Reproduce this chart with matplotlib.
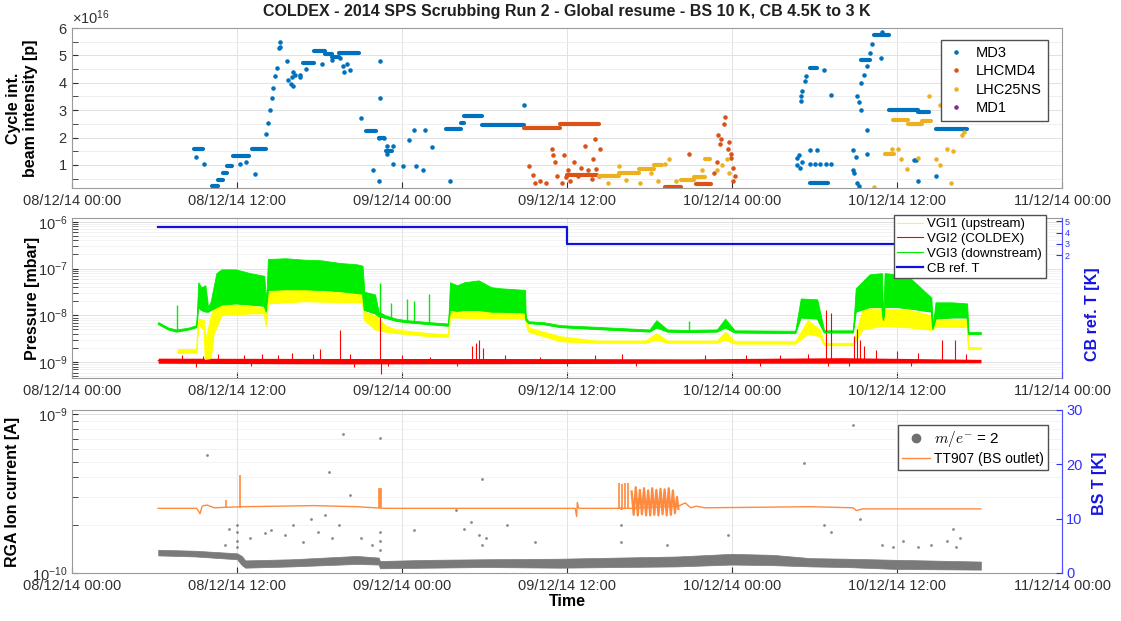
import numpy as np
import matplotlib
matplotlib.use("Agg")
import matplotlib.pyplot as plt
import matplotlib.dates as mdates
from matplotlib.ticker import ScalarFormatter, LogLocator, NullFormatter, FixedLocator

plt.rcParams["font.family"] = ["Liberation Sans", "DejaVu Sans"]
plt.rcParams["mathtext.fontset"] = "custom"
plt.rcParams["mathtext.rm"] = "Liberation Sans"
plt.rcParams["mathtext.it"] = "Liberation Sans:italic"
plt.rcParams["mathtext.bf"] = "Liberation Sans:bold"

T0 = np.datetime64("2014-12-08T00:00")

# ── cycle intensity (hours since 08/12/14 00:00, value in 1e16 p) ──────────
# plateaus: start h, end h, level
md3_seg_h0 = [8.9, 10.2, 10.6, 11.0, 11.3, 11.7, 13.1, 16.8, 17.6, 18.4, 18.9, 19.4, 21.4, 22.3, 22.8,
              27.2, 28.3, 28.5, 29.8, 53.7, 53.7, 57.4, 58.3, 59.4, 61.5, 62.8]
md3_seg_h1 = [9.5, 10.6, 11.0, 11.3, 11.6, 12.9, 14.1, 17.6, 18.4, 18.9, 19.4, 20.9, 22.1, 22.7, 23.3,
              28.3, 28.5, 29.8, 32.9, 54.2, 55.0, 58.0, 59.4, 61.5, 62.3, 65.1]
md3_seg_v = [1.6, 0.25, 0.45, 0.7, 0.95, 1.32, 1.57, 4.73, 5.15, 5.05, 4.95, 5.1, 2.25, 1.97, 1.5,
             2.33, 2.55, 2.8, 2.45, 4.55, 0.35, 4.85, 5.75, 3.0, 2.95, 2.33]
md3_h = [9.0, 9.6, 12.2, 12.65, 13.3, 14.1, 14.25, 14.4, 14.55, 14.6, 14.75, 14.9, 15.05, 15.1, 15.15,
         15.6, 15.7, 15.9, 16.0, 16.1, 16.2, 16.1, 16.6, 16.6, 17.0, 18.2, 18.9, 19.5, 19.7, 19.8, 20.0,
         20.2, 21.0, 22.4, 22.4, 22.3, 22.7, 22.9, 22.9, 23.35, 23.35, 21.9, 22.3, 24.1, 24.5, 24.9,
         25.7, 26.2, 25.0, 25.5, 27.5, 32.9,
         52.7, 52.75, 52.9, 52.95, 53.1, 53.7, 54.0, 54.4, 54.8, 55.2, 53.7, 54.2, 53.0, 53.1, 53.3,
         53.4, 54.7, 55.2, 53.05, 56.8, 57.0, 57.1, 56.8, 56.9, 57.1, 57.2, 57.4, 57.4, 57.6, 57.8,
         58.0, 58.2, 58.9, 58.8, 57.8, 57.8, 57.2, 61.2, 61.4, 61.5, 62.8]
md3_v = [1.28, 1.05, 1.05, 1.1, 0.66, 2.14, 2.52, 3.0, 3.45, 3.8, 4.24, 4.55, 5.28, 5.48, 5.3,
         4.8, 4.1, 3.95, 4.2, 4.4, 4.3, 3.9, 4.3, 4.2, 4.5, 4.7, 4.85, 4.9, 4.6, 4.4, 4.7,
         4.45, 2.7, 4.8, 3.45, 2.0, 2.0, 1.7, 1.4, 1.7, 1.04, 0.8, 0.42, 0.97, 1.9, 2.27,
         2.27, 1.66, 0.97, 0.8, 0.4, 3.2,
         1.0, 1.25, 1.35, 0.9, 1.1, 1.03, 1.03, 1.03, 1.03, 1.03, 1.55, 1.55, 3.5, 3.7, 4.05,
         4.25, 4.45, 3.55, 3.35, 1.55, 1.3, 0.35, 0.8, 0.7, 3.5, 3.3, 3.0, 4.0, 4.3, 4.6,
         5.1, 5.4, 5.85, 4.9, 2.27, 1.4, 0.25, 1.17, 1.17, 0.4, 0.6]

lhcmd4_seg_h0 = [32.9, 35.5, 36.0, 43.1, 45.4]
lhcmd4_seg_h1 = [35.5, 38.3, 38.2, 44.3, 46.5]
lhcmd4_seg_v = [2.35, 2.5, 0.65, 0.2, 0.3]
lhcmd4_h = [33.2, 33.5, 33.7, 34.0, 34.5, 34.9, 35.0, 35.1, 35.3, 35.6, 35.75, 35.9, 36.1, 36.2, 36.5,
            36.8, 37.0, 37.3, 37.5, 37.8, 37.9, 38.0, 38.1, 38.3, 38.4, 44.9, 46.7, 46.9, 47.0, 47.1,
            47.2, 47.4, 47.5, 47.7, 47.8, 47.9, 47.95, 48.1, 48.1, 48.25]
lhcmd4_v = [0.97, 0.65, 0.35, 0.4, 0.35, 1.6, 1.35, 1.1, 0.6, 0.35, 1.35, 0.55, 0.8, 0.4, 1.1,
            0.6, 0.9, 1.7, 0.8, 0.5, 1.2, 1.95, 0.85, 0.6, 1.6, 1.4, 0.7, 1.1, 2.1, 1.75,
            1.95, 2.5, 2.75, 1.6, 1.85, 1.4, 1.25, 0.9, 0.4, 0.6]

lhc25_seg_h0 = [38.3, 39.8, 41.2, 42.3, 44.3, 45.2, 46.0, 59.1, 59.7, 60.8, 61.8, 64.1]
lhc25_seg_h1 = [39.8, 41.2, 42.3, 42.9, 45.2, 46.0, 46.4, 59.8, 60.8, 61.8, 62.5, 64.9]
lhc25_seg_v = [0.6, 0.7, 0.85, 1.0, 0.45, 0.55, 1.2, 1.4, 2.65, 2.5, 2.6, 2.95]
lhc25_h = [38.95, 39.8, 40.3, 41.3, 42.1, 42.6, 43.1, 43.4, 43.9, 45.8, 46.9, 47.3, 47.6, 47.8,
           58.3, 59.6, 60.1, 60.3, 60.7, 61.5, 62.3, 63.1, 62.8, 63.1, 63.6, 64.1, 63.9, 64.9, 64.7]
lhc25_v = [0.35, 0.95, 0.45, 0.35, 0.7, 0.4, 1.05, 1.2, 0.4, 0.8, 0.8, 1.0, 1.2, 0.7,
           0.2, 1.6, 1.6, 1.2, 0.85, 1.25, 3.5, 3.2, 1.2, 1.0, 1.6, 1.5, 0.35, 2.2, 2.1]

md1_h = []
md1_v = []

# ── pressures [mbar] ─────────────────────────────────────────────────────────
vgi3_h = [6.27, 7.0, 7.6, 8.5, 9.05, 9.18, 9.4, 9.7, 9.9, 10.09, 10.5, 10.87, 11.91, 12.95, 13.98,
          14.12, 14.25, 15.54, 16.84, 18.14, 19.44, 20.74, 21.13, 21.26, 22.04, 22.3, 22.81, 23.59,
          24.37, 25.93, 27.36, 27.49, 28.0, 28.53, 29.57, 30.5, 31.13, 32.95, 33.0, 33.2, 34.25,
          35.5, 38.1, 42.0, 42.5, 43.3, 44.6, 46.9, 47.5, 48.2, 52.6, 53.0, 54.2, 54.7, 56.8, 57.0,
          58.0, 58.9, 59.0, 59.1, 60.0, 60.9, 62.5, 62.6, 62.8, 64.0, 65.1, 65.2, 66.1]
vgi3_hi = [7.2e-9, 5.5e-9, 5.0e-9, 5.5e-9, 6.2e-9, 5.1e-8, 4.0e-8, 4.4e-8, 1.5e-8, 2.0e-8, 8e-8, 9.6e-8,
           9.6e-8, 8e-8, 7e-8, 2.0e-8, 1.6e-7, 1.66e-7, 1.55e-7, 1.5e-7, 1.32e-7, 1.23e-7, 1.15e-7,
           3.2e-8, 2.8e-8, 1.2e-8, 1.0e-8, 8.5e-9, 7.9e-9, 7.2e-9, 6.7e-9, 5.1e-8, 4.4e-8, 5.1e-8,
           5.6e-8, 4.0e-8, 3.8e-8, 3.5e-8, 9e-9, 7.5e-9, 7.2e-9, 6.2e-9, 5.7e-9, 5.0e-9, 7.9e-9,
           5.0e-9, 4.9e-9, 5.0e-9, 8.5e-9, 4.8e-9, 4.7e-9, 2.3e-8, 2.2e-8, 4.8e-9, 4.8e-9, 3.8e-8,
           7.5e-8, 8e-8, 9e-9, 8e-8, 7.5e-8, 6.5e-8, 2.4e-8, 5.7e-9, 1.9e-8, 1.9e-8, 1.8e-8, 4.4e-9,
           4.4e-9]
vgi3_lo = [6.5e-9, 5.0e-9, 4.5e-9, 5.0e-9, 5.6e-9, 1.5e-8, 1.3e-8, 1.2e-8, 1.2e-8, 1.3e-8, 1.5e-8,
           1.7e-8, 1.8e-8, 1.7e-8, 1.6e-8, 1.2e-8, 3.5e-8, 3.6e-8, 3.6e-8, 3.5e-8, 3.3e-8, 3.0e-8,
           2.9e-8, 1.3e-8, 1.1e-8, 9.5e-9, 8.8e-9, 7.6e-9, 7.1e-9, 6.5e-9, 6.0e-9, 1.3e-8, 1.25e-8,
           1.3e-8, 1.3e-8, 1.2e-8, 1.2e-8, 1.15e-8, 8e-9, 6.8e-9, 6.5e-9, 5.6e-9, 5.1e-9, 4.5e-9,
           5.5e-9, 4.5e-9, 4.4e-9, 4.5e-9, 5.5e-9, 4.3e-9, 4.2e-9, 9e-9, 8.5e-9, 4.3e-9, 4.3e-9,
           1.2e-8, 1.5e-8, 1.5e-8, 8e-9, 1.5e-8, 1.5e-8, 1.4e-8, 1.2e-8, 5.1e-9, 8.5e-9, 9e-9, 9e-9,
           4.0e-9, 4.0e-9]
vgi3_spk_h = [7.67, 22.43, 23.2, 24.37, 24.89, 25.93, 44.9]
vgi3_spk_p = [1.7e-8, 5e-8, 1.8e-8, 2.2e-8, 2.0e-8, 2.8e-8, 7.5e-9]

vgi1_h = [7.67, 9.05, 9.18, 9.6, 9.7, 10.09, 10.3, 10.87, 12.95, 13.98, 14.12, 14.25, 16.84, 20.74,
          21.13, 21.26, 22.04, 22.81, 23.59, 25.93, 27.36, 27.49, 32.95, 33.2, 35.5, 38.1, 41.7,
          42.5, 43.3, 46.9, 47.5, 48.2, 52.6, 53.5, 54.4, 54.7, 56.8, 57.5, 59.0, 61.0, 62.5, 62.8,
          65.1, 65.2, 66.1]
vgi1_lo = [1.6e-9, 1.6e-9, 6.5e-9, 5e-9, 1.15e-9, 1.2e-9, 4e-9, 1.0e-8, 1.1e-8, 1.1e-8, 6e-9, 1.8e-8,
           2.0e-8, 1.9e-8, 1.9e-8, 8e-9, 5e-9, 4.5e-9, 4.2e-9, 3.6e-9, 3.5e-9, 9e-9, 8.5e-9, 4.5e-9,
           2.8e-9, 2.6e-9, 2.6e-9, 3.0e-9, 2.6e-9, 2.6e-9, 3.0e-9, 2.5e-9, 2.5e-9, 4e-9, 3.6e-9,
           2.3e-9, 2.3e-9, 5e-9, 6e-9, 5.5e-9, 4.9e-9, 5.7e-9, 5.7e-9, 1.9e-9, 1.9e-9]
vgi1_hi = [1.9e-9, 1.9e-9, 8.5e-9, 8e-9, 3e-9, 1.0e-8, 1.4e-8, 1.8e-8, 1.6e-8, 1.5e-8, 8e-9, 3.5e-8,
           3.6e-8, 3.0e-8, 2.9e-8, 1.2e-8, 1.0e-8, 6e-9, 5e-9, 4.2e-9, 4.0e-9, 1.3e-8, 1.2e-8, 5.5e-9,
           3.6e-9, 2.9e-9, 2.9e-9, 4.2e-9, 2.9e-9, 2.9e-9, 4.5e-9, 2.8e-9, 2.8e-9, 7.9e-9, 5e-9,
           2.6e-9, 2.6e-9, 1.4e-8, 1.4e-8, 1.3e-8, 1.0e-8, 7.9e-9, 7.9e-9, 2.1e-9, 2.1e-9]

vgi2_h = [6.27, 20.0, 30.0, 45.0, 56.0, 66.1]
vgi2_lo = [0.95e-9, 0.92e-9, 0.93e-9, 0.95e-9, 0.95e-9, 0.97e-9]
vgi2_hi = [1.22e-9, 1.2e-9, 1.2e-9, 1.18e-9, 1.25e-9, 1.15e-9]
vgi2_spk_h = [8.0, 9.5, 10.6, 12.5, 13.8, 15.0, 16.0, 17.5, 18.0, 19.5, 20.2, 22.4, 24.0, 26.0, 29.1,
              29.4, 29.6, 29.9, 31.5, 34.0, 38.0, 40.0, 46.0, 49.0, 51.5, 53.5, 54.8, 55.2, 56.9,
              57.1, 57.3, 57.6, 58.5, 60.0, 61.5, 63.3, 64.2, 65.0]
vgi2_spk_p = [1.4e-9, 1.35e-9, 1.5e-9, 1.4e-9, 1.5e-9, 1.4e-9, 1.6e-9, 1.5e-9, 1.9e-9, 4.9e-9, 1.5e-9,
              1.5e-8, 1.4e-9, 1.3e-9, 2.2e-9, 2.6e-9, 3.0e-9, 2.0e-9, 1.4e-9, 1.3e-9, 1.4e-9, 1.5e-9,
              1.4e-9, 1.4e-9, 1.4e-9, 1.5e-9, 1.3e-8, 1.1e-8, 3.6e-9, 5e-9, 3.0e-9, 2.2e-9, 1.8e-9,
              1.7e-9, 1.6e-9, 3.0e-9, 3.0e-9, 1.5e-9]
vgi2_dip_h = [9.0, 13.0, 20.5, 22.45, 23.0, 28.0, 36.0, 41.0, 50.0, 55.0, 56.5, 61.0]
vgi2_dip_p = [8e-10, 8.3e-10, 8e-10, 5.5e-10, 8.5e-10, 8.5e-10, 8.5e-10, 8.5e-10, 8.5e-10, 8.5e-10,
              8.5e-10, 8.5e-10]

cb_h = [6.27, 36.0, 36.0, 66.1]
cb_T = [4.5, 4.5, 3.0, 3.0]

# ── RGA m/e=2 ion current [A] and BS outlet temperature [K] ─────────────────
rga_h = [6.27, 9.0, 12.0, 12.35, 12.6, 16.0, 20.7, 22.3, 22.4, 26.0, 30.0, 35.5, 39.7, 44.0, 48.0,
         51.0, 53.7, 56.3, 60.0, 66.1]
rga_lo = [1.29e-10, 1.27e-10, 1.22e-10, 1.12e-10, 1.08e-10, 1.1e-10, 1.14e-10, 1.13e-10, 1.07e-10,
          1.08e-10, 1.09e-10, 1.08e-10, 1.09e-10, 1.1e-10, 1.13e-10, 1.12e-10, 1.1e-10, 1.09e-10,
          1.06e-10, 1.05e-10]
rga_hi = [1.40e-10, 1.38e-10, 1.33e-10, 1.28e-10, 1.2e-10, 1.22e-10, 1.28e-10, 1.25e-10, 1.19e-10,
          1.21e-10, 1.22e-10, 1.23e-10, 1.25e-10, 1.27e-10, 1.32e-10, 1.3e-10, 1.24e-10, 1.23e-10,
          1.21e-10, 1.18e-10]
rga_pt_h = [9.83, 18.66, 19.7, 22.4, 20.2, 29.8, 27.9, 12.95, 14.0, 14.5, 15.5, 16.1, 16.8, 17.4, 17.9,
            18.4, 18.9, 19.4, 11.4, 11.1, 21.0, 21.8, 24.9, 28.5, 29.0, 29.6, 29.8, 30.1, 31.6, 33.7,
            12.0, 12.0, 12.0, 12.0, 22.4, 22.4, 22.4, 39.9, 39.9, 39.9, 53.2, 56.8, 54.7, 55.2, 47.7,
            43.3, 58.9, 59.7, 60.4, 61.5, 62.5, 63.6, 64.3, 64.6, 57.3, 64.1]
rga_pt_I = [5.5e-10, 4.3e-10, 7.5e-10, 7.1e-10, 3.1e-10, 3.9e-10, 2.5e-10, 1.65e-10, 1.78e-10, 1.86e-10,
            1.73e-10, 2.0e-10, 1.57e-10, 2.2e-10, 1.82e-10, 2.33e-10, 1.65e-10, 2.0e-10, 1.9e-10,
            1.5e-10, 1.65e-10, 1.5e-10, 1.86e-10, 1.9e-10, 2.1e-10, 1.73e-10, 1.5e-10, 1.65e-10,
            2.0e-10, 1.57e-10, 2.0e-10, 1.8e-10, 1.6e-10, 1.45e-10, 1.8e-10, 1.6e-10, 1.4e-10,
            2.57e-10, 2.0e-10, 1.57e-10, 4.9e-10, 8.5e-10, 2.0e-10, 1.82e-10, 1.73e-10, 1.5e-10,
            1.5e-10, 1.45e-10, 1.6e-10, 1.45e-10, 1.5e-10, 1.6e-10, 1.45e-10, 1.65e-10, 2.2e-10, 1.9e-10]

tt907_h = [6.27, 8.0, 9.05, 9.2, 9.31, 9.45, 9.57, 9.83, 10.35, 11.2, 12.43, 17.6, 20.7, 22.04, 22.8,
           30.0, 35.5, 36.6, 36.7, 36.75, 36.85, 39.7, 40.7, 44.1, 44.6, 45.0, 45.4, 46.0, 53.7, 56.8,
           57.05, 57.5, 66.1]
tt907_T = [11.9, 11.9, 11.9, 11.4, 10.9, 12.2, 12.4, 12.5, 12.0, 12.1, 12.2, 12.4, 12.2, 12.0, 11.9,
           11.9, 11.9, 11.9, 10.4, 13.0, 11.9, 11.9, 11.9, 12.3, 12.9, 12.0, 12.3, 12.0, 12.2, 12.0,
           11.5, 11.8, 11.8]
# temperature swings while the beam screen regulation oscillates
tt907_osc_h = [40.7, 40.85, 41.0, 41.15, 41.3, 41.45, 41.6, 41.75, 41.9, 42.05, 42.2, 42.35, 42.5,
               42.65, 42.8, 42.95, 43.1, 43.25, 43.4, 43.55, 43.7, 43.85, 44.0, 44.1]
tt907_osc_T = [15.0, 10.7, 15.8, 10.6, 15.3, 10.8, 15.6, 10.6, 15.2, 10.6, 15.6, 10.7, 15.3, 10.6,
               15.5, 10.8, 15.4, 10.6, 15.6, 10.7, 15.2, 11.0, 14.0, 11.8]
tt907_spk_h = [11.2, 12.2, 22.3, 22.4, 22.5, 39.8, 40.0, 40.2, 40.4]
tt907_spk_T = [13.4, 18.1, 15.7, 15.5, 15.7, 16.5, 16.3, 16.6, 16.5]


def hours(h):
    return T0 + (np.asarray(h, dtype=float) * 3600).astype(np.int64).astype("timedelta64[s]")


def style_time_axis(ax):
    ax.set_xlim(hours(0)[()], hours(72)[()])
    ax.xaxis.set_major_locator(mdates.HourLocator(byhour=[0, 12]))
    ax.xaxis.set_major_formatter(mdates.DateFormatter("%d/%m/%y %H:%M"))
    ax.tick_params(axis="both", which="both", direction="in", colors="#303030",
                   labelsize=10.5, length=4)
    ax.tick_params(axis="x", pad=4)
    ax.tick_params(axis="y", pad=3)
    ax.grid(True, which="major", color="#e2e2e2", lw=0.7)
    for sp in ax.spines.values():
        sp.set_color("#9a9a9a")
        sp.set_linewidth(0.8)
    ax.set_axisbelow(True)


def draw_segments(ax, h0, h1, v, color):
    ax.hlines(np.asarray(v) * 1e16, hours(h0), hours(h1), colors=color, lw=3.0, capstyle="round")


fig = plt.figure(figsize=(11.21, 6.21), dpi=100)
X0, W = 72 / 1121, 990 / 1121

# ── panel 1: cycle intensity ────────────────────────────────────────────────
ax1 = fig.add_axes([X0, 0.6973, W, 0.2576])
style_time_axis(ax1)
series = [("MD3", "#0072BD", md3_h, md3_v, md3_seg_h0, md3_seg_h1, md3_seg_v),
          ("LHCMD4", "#D95319", lhcmd4_h, lhcmd4_v, lhcmd4_seg_h0, lhcmd4_seg_h1, lhcmd4_seg_v),
          ("LHC25NS", "#EDB120", lhc25_h, lhc25_v, lhc25_seg_h0, lhc25_seg_h1, lhc25_seg_v),
          ("MD1", "#7E2F8E", md1_h, md1_v, [], [], [])]
for name, col, h, v, s0, s1, sv in series:
    if s0:
        draw_segments(ax1, s0, s1, sv, col)
    ax1.plot(hours(h), np.asarray(v, dtype=float) * 1e16, ".", color=col, ms=4.5, label=name)
ax1.set_ylim(0.16e16, 6e16)
ax1.yaxis.set_major_locator(FixedLocator(np.arange(1, 7) * 1e16))
ax1.yaxis.set_minor_locator(FixedLocator(np.arange(0.5, 6, 1.0) * 1e16))
ax1.grid(True, which="minor", axis="y", color="#ededed", lw=0.6)
fmt = ScalarFormatter(useMathText=True)
fmt.set_powerlimits((0, 0))
ax1.yaxis.set_major_formatter(fmt)
ax1.yaxis.get_offset_text().set_fontsize(10.5)
ax1.yaxis.get_offset_text().set_color("#303030")
ax1.set_ylabel("Cycle int.\nbeam intensity [p]", fontsize=11.5, fontweight="bold")
ax1.yaxis.set_label_coords(-0.034, 0.5)
ax1.legend(loc="upper right", bbox_to_anchor=(0.993, 0.969), fontsize=10.5, framealpha=1,
           edgecolor="#505050", fancybox=False, handlelength=1.2, borderpad=0.4, labelspacing=0.3)
fig.text(0.506, 0.981, "COLDEX - 2014 SPS Scrubbing Run 2 - Global resume - BS 10 K, CB 4.5K to 3 K",
         ha="center", va="center", fontsize=11.5, fontweight="bold", color="#202020")

# ── panel 2: pressures + cold bore reference T ──────────────────────────────
ax2 = fig.add_axes([X0, 0.3913, W, 0.2576])
style_time_axis(ax2)
ax2.set_yscale("log")
ax2.set_ylim(4.6e-10, 1.2e-6)
ax2.yaxis.set_minor_locator(LogLocator(base=10, subs=np.arange(2, 10)))
ax2.yaxis.set_minor_formatter(NullFormatter())
ax2.grid(True, which="minor", axis="y", color="#eeeeee", lw=0.5)

t1 = hours(vgi1_h)
ax2.fill_between(t1, vgi1_lo, vgi1_hi, color="#FFFF00", lw=0.6, edgecolor="#FFFF00")
ax2.plot(t1, vgi1_lo, color="#FFFF00", lw=0.8, label="VGI1 (upstream)")
t2 = hours(vgi2_h)
ax2.fill_between(t2, vgi2_lo, vgi2_hi, color="#FF0000", lw=0)
ax2.vlines(hours(vgi2_spk_h), 1.05e-9, vgi2_spk_p, colors="#FF0000", lw=0.8)
ax2.vlines(hours(vgi2_dip_h), vgi2_dip_p, 1.05e-9, colors="#FF0000", lw=0.8)
ax2.plot(t2, np.sqrt(np.multiply(vgi2_lo, vgi2_hi)), color="#FF0000", lw=0.8, label="VGI2 (COLDEX)")
t3 = hours(vgi3_h)
ax2.fill_between(t3, vgi3_lo, vgi3_hi, color="#00EE00", lw=0.6, edgecolor="#00EE00")
ax2.vlines(hours(vgi3_spk_h), np.interp(vgi3_spk_h, vgi3_h, vgi3_lo), vgi3_spk_p,
           colors="#00EE00", lw=1.0)
ax2.plot(t3, vgi3_lo, color="#00EE00", lw=0.8, label="VGI3 (downstream)")
ax2.set_ylabel("Pressure [mbar]", fontsize=11.5, fontweight="bold")
ax2.yaxis.set_label_coords(-0.032, 0.5)

ax2r = ax2.twinx()
ax2r.plot(hours(cb_h), cb_T, color="#1010E0", lw=1.6, label="CB ref. T")
ax2r.set_ylim(-8.9, 5.3)
ax2r.set_yticks([2, 3, 4, 5])
ax2r.tick_params(axis="y", direction="in", colors="#3030FF", labelsize=6.5, length=4, pad=2)
ax2r.spines["right"].set_color("#5050FF")
for k in ("left", "top", "bottom"):
    ax2r.spines[k].set_visible(False)
ax2r.set_ylabel("CB ref. T [K]", fontsize=11.5, fontweight="bold", color="#1515E0")
ax2r.yaxis.set_label_coords(1.023, 0.4)
h_l, l_l = ax2.get_legend_handles_labels()
h_r, l_r = ax2r.get_legend_handles_labels()
ax2r.legend(h_l + h_r, l_l + l_r, loc="upper right", bbox_to_anchor=(0.99, 1.0625), fontsize=9.5,
            framealpha=1, edgecolor="#505050", fancybox=False, handlelength=2.0, borderpad=0.25,
            labelspacing=0.2, handletextpad=0.3)

# ── panel 3: RGA + beam screen temperature ──────────────────────────────────
ax3 = fig.add_axes([X0, 0.0773, W, 0.2625])
style_time_axis(ax3)
ax3.set_yscale("log")
ax3.set_ylim(1e-10, 1.06e-9)
ax3.yaxis.set_minor_locator(LogLocator(base=10, subs=np.arange(2, 10)))
ax3.yaxis.set_minor_formatter(NullFormatter())
ax3.grid(True, which="minor", axis="y", color="#eeeeee", lw=0.5)
tr = hours(rga_h)
ax3.fill_between(tr, rga_lo, rga_hi, color="#7a7a7a", lw=0.5, edgecolor="#7a7a7a")
ax3.plot(hours(rga_pt_h), rga_pt_I, ".", color="#8a8a8a", ms=2.0)
ax3.plot([], [], "o", color="#6f6f6f", ms=6, label=r"$m/e^{-}$ = 2")
ax3.set_ylabel("RGA Ion current [A]", fontsize=11.5, fontweight="bold")
ax3.yaxis.set_label_coords(-0.053, 0.5)
ax3.set_xlabel("Time", fontsize=11.5, fontweight="bold", labelpad=1)

ax3r = ax3.twinx()
ax3r.plot(hours(tt907_h), tt907_T, color="#FF8A3D", lw=1.0, label="TT907 (BS outlet)")
ax3r.plot(hours(tt907_osc_h), tt907_osc_T, color="#FF8A3D", lw=1.6)
ax3r.vlines(hours(tt907_spk_h), 11.9, tt907_spk_T, colors="#FF8A3D", lw=1.2)
ax3r.set_ylim(0, 30)
ax3r.set_yticks([0, 10, 20, 30])
ax3r.tick_params(axis="y", direction="in", colors="#3030FF", labelsize=10.5, length=4, pad=3)
ax3r.spines["right"].set_color("#5050FF")
for k in ("left", "top", "bottom"):
    ax3r.spines[k].set_visible(False)
ax3r.set_ylabel("BS T [K]", fontsize=11.5, fontweight="bold", color="#1515E0")
ax3r.yaxis.set_label_coords(1.03, 0.55)
h_l, l_l = ax3.get_legend_handles_labels()
h_r, l_r = ax3r.get_legend_handles_labels()
leg = ax3r.legend(h_l + h_r, l_l + l_r, loc="upper right", bbox_to_anchor=(0.993, 0.951), fontsize=10,
                  framealpha=1, edgecolor="#505050", fancybox=False, handlelength=2.0, borderpad=0.3,
                  labelspacing=0.2, handletextpad=0.3)
leg.get_texts()[0].set_math_fontfamily("cm")
leg.get_texts()[0].set_fontsize(11)

fig.savefig("out.png", dpi=100)
